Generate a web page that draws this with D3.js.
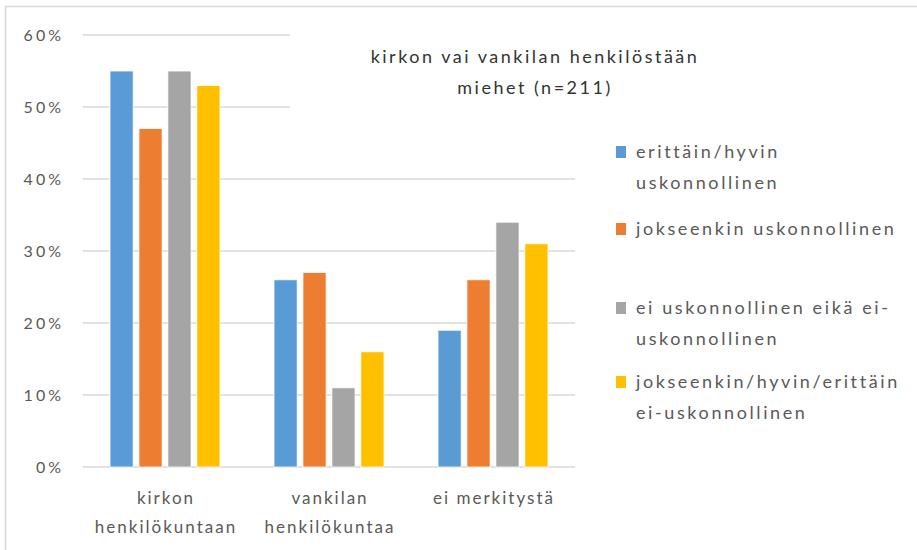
<!DOCTYPE html>
<html lang="fi">
<head>
  <meta charset="UTF-8" />
  <title>kirkon vai vankilan henkilöstään</title>
  <script src="https://d3js.org/d3.v7.min.js"></script>
  <style>
    body { margin: 0; background: white; font-family: Lato, "Open Sans", sans-serif; }
    .grid line { stroke: #d9d9d9; stroke-width: 1.5px; }
    .lbl { fill: #595959; }
  </style>
</head>
<body>
  <svg id="chart" width="917" height="550"></svg>

  <script>
    const categories = [["kirkon", "henkilökuntaan"], ["vankilan", "henkilökuntaa"], ["ei merkitystä"]];
    const series = [
      ["erittäin/hyvin", "uskonnollinen"],
      ["jokseenkin uskonnollinen"],
      ["ei uskonnollinen eikä ei-", "uskonnollinen"],
      ["jokseenkin/hyvin/erittäin", "ei-uskonnollinen"]
    ];
    const colors = ["#5b9bd5", "#ed7d31", "#a5a5a5", "#ffc000"];
    // values in %, one array per series, in category order
    const values = [
      [55, 26, 19],
      [47, 27, 26],
      [55, 11, 34],
      [53, 16, 31]
    ];
    const yTicks = [0, 10, 20, 30, 40, 50, 60];
    const title = ["kirkon vai vankilan henkilöstään", "miehet (n=211)"];

    const svg = d3.select("#chart");

    // chart frame
    svg.append("rect")
      .attr("x", 5.5).attr("y", 6.5).attr("width", 930).attr("height", 560)
      .attr("fill", "white").attr("stroke", "#d9d9d9").attr("stroke-width", 1.5);

    const plot = { left: 83, right: 575, top: 35, bottom: 467 };

    const y = d3.scaleLinear().domain([0, 60]).range([plot.bottom, plot.top]);
    const x0 = d3.scaleBand().domain(d3.range(categories.length)).range([plot.left, plot.right]);
    const x1 = d3.scaleBand().domain(d3.range(series.length))
      .range([27, x0.bandwidth() - 27]).paddingInner(0.2);

    // gridlines
    svg.append("g").attr("class", "grid")
      .selectAll("line").data(yTicks).join("line")
      .attr("x1", plot.left).attr("x2", plot.right)
      .attr("y1", d => y(d)).attr("y2", d => y(d));

    // y labels
    svg.append("g").selectAll("text").data(yTicks).join("text")
      .attr("class", "lbl")
      .attr("x", 64).attr("y", d => y(d)).attr("dy", "0.35em")
      .attr("text-anchor", "end")
      .attr("font-size", 16).attr("letter-spacing", 3)
      .text(d => d + "%");

    // bars
    const groups = svg.append("g").selectAll("g").data(categories).join("g")
      .attr("transform", (d, i) => `translate(${x0(i)},0)`);

    groups.selectAll("rect")
      .data((d, i) => values.map((v, s) => ({ s, v: v[i] })))
      .join("rect")
      .attr("x", d => x1(d.s))
      .attr("width", x1.bandwidth())
      .attr("y", d => y(d.v))
      .attr("height", d => y(0) - y(d.v))
      .attr("fill", d => colors[d.s])
      .attr("stroke", "white").attr("stroke-width", 0.8);

    // category labels
    groups.append("text")
      .attr("class", "lbl")
      .attr("text-anchor", "middle")
      .attr("font-size", 17).attr("letter-spacing", 2)
      .selectAll("tspan").data(d => d).join("tspan")
      .attr("x", x0.bandwidth() / 2 + 1)
      .attr("y", (d, i) => 504 + i * 29)
      .text(d => d);

    // white area behind title (hides gridlines like the original)
    svg.append("rect")
      .attr("x", 290).attr("y", 25).attr("width", 620).attr("height", 95)
      .attr("fill", "white");

    svg.append("text")
      .attr("text-anchor", "middle")
      .attr("fill", "#333333")
      .attr("font-size", 18).attr("letter-spacing", 2.5)
      .selectAll("tspan").data(title).join("tspan")
      .attr("x", 535)
      .attr("y", (d, i) => 63 + i * 31)
      .text(d => d);

    // legend
    const legendRows = [152, 229, 308, 382];
    const legend = svg.append("g").selectAll("g").data(series).join("g")
      .attr("transform", (d, i) => `translate(616,${legendRows[i]})`);

    legend.append("rect")
      .attr("x", 0).attr("y", -6).attr("width", 10).attr("height", 12)
      .attr("fill", (d, i) => colors[i]);

    legend.append("text")
      .attr("class", "lbl")
      .attr("font-size", 18).attr("letter-spacing", 2.6)
      .selectAll("tspan").data(d => d).join("tspan")
      .attr("x", 20)
      .attr("y", (d, i) => i * 31)
      .attr("dy", "0.35em")
      .text(d => d);
  </script>
</body>
</html>
